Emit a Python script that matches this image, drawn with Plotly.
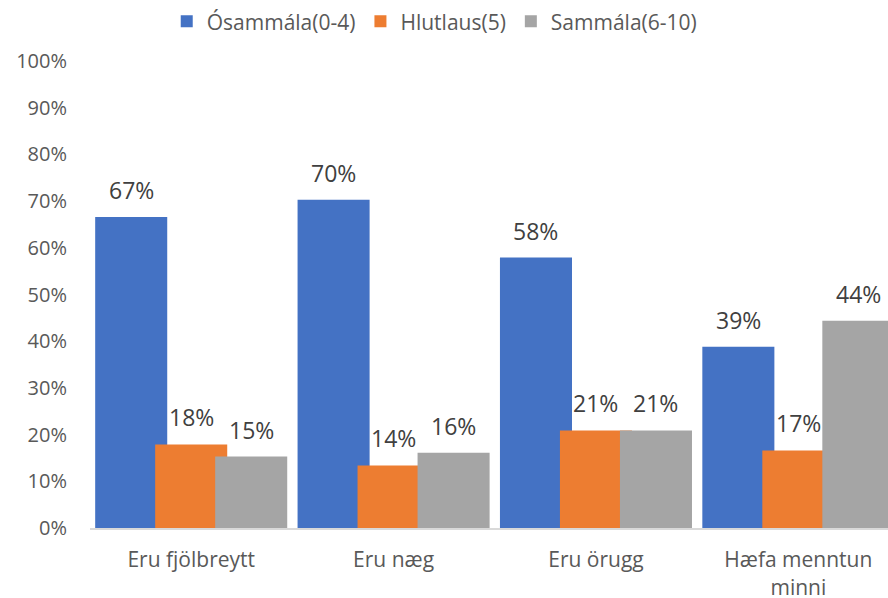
import plotly.graph_objects as go

categories = ["Eru fjölbreytt", "Eru næg", "Eru örugg", "Hæfa menntun<br>minni"]
osammala = [66.6, 70.3, 57.9, 38.8]
hlutlaus = [17.9, 13.4, 20.9, 16.6]
sammala = [15.3, 16.1, 20.9, 44.4]
labels_osammala = ["67%", "70%", "58%", "39%"]
labels_hlutlaus = ["18%", "14%", "21%", "17%"]
labels_sammala = ["15%", "16%", "21%", "44%"]
series_names = ["Ósammála(0-4)", "Hlutlaus(5)", "Sammála(6-10)"]
colors = ["#4472C4", "#ED7D31", "#A5A5A5"]
offsets = [-0.4744, -0.178, 0.1185]
BAR_W = 0.356
FONT = "Open Sans"

fig = go.Figure()
all_vals = [osammala, hlutlaus, sammala]
all_labs = [labels_osammala, labels_hlutlaus, labels_sammala]
for name, vals, col, off in zip(series_names, all_vals, colors, offsets):
    fig.add_bar(x=categories, y=vals, name=name, marker=dict(color=col, line=dict(width=0)),
                width=BAR_W, offset=off, hoverinfo="skip")

for vals, labs, off in zip(all_vals, all_labs, offsets):
    for i, (v, l) in enumerate(zip(vals, labs)):
        fig.add_annotation(x=i + off + BAR_W / 2, y=v, text=l, showarrow=False, yshift=27,
                           xref="x", yref="y", font=dict(family=FONT, size=23, color="#404040"))

fig.update_layout(
    width=888, height=598, autosize=False, barmode="overlay",
    paper_bgcolor="white", plot_bgcolor="white",
    margin=dict(l=90, r=0, t=61, b=69.5, autoexpand=False),
    font=dict(family=FONT, size=20, color="#595959"),
    legend=dict(orientation="h", x=0.489, xref="container", xanchor="center", y=0.998, yref="container",
                yanchor="top", font=dict(family=FONT, size=21, color="#595959"),
                bgcolor="rgba(0,0,0,0)"),
    xaxis=dict(type="category", range=[-0.5, 3.443], showgrid=False, ticks="",
               showline=True, linecolor="#D9D9D9", linewidth=2, ticklabelstandoff=12,
               tickfont=dict(family=FONT, size=21, color="#595959")),
    yaxis=dict(range=[0, 100], dtick=10, ticksuffix="%", showgrid=False, zeroline=False, ticks="",
               showline=False, ticklabelstandoff=22, tickfont=dict(family=FONT, size=20, color="#595959")),
)
fig.write_html("out.html", config={"displayModeBar": False},
               post_script="document.body.style.margin='0';document.documentElement.style.overflow='hidden';")
